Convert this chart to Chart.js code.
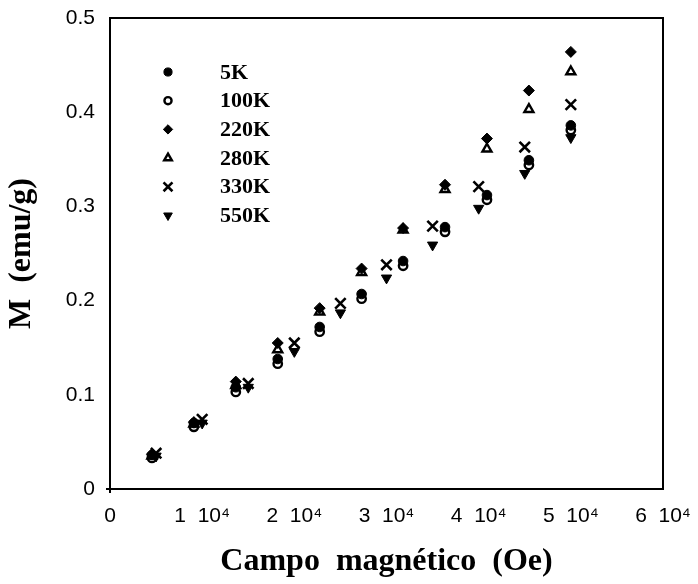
<!DOCTYPE html>
<html><head><meta charset="utf-8">
<script src="https://cdn.jsdelivr.net/npm/chart.js@4/dist/chart.umd.min.js"></script>
<style>html,body{margin:0;padding:0;background:#fff}canvas{display:block}</style>
</head><body>
<canvas id="c" width="698" height="584"></canvas>
<script>
// Field values (Oe)
const fieldsA = [4550, 9100, 13650, 18200, 22750, 27300, 31800, 36350, 40900, 45450, 50000];
const fieldsB = [5000, 10000, 15000, 20000, 25000, 30000, 35000, 40000, 45000, 50000];
// Magnetization (emu/g)
const m5K   = [0.036, 0.070, 0.108, 0.138, 0.172, 0.207, 0.242, 0.278, 0.312, 0.349, 0.386];
const m100K = [0.033, 0.066, 0.103, 0.133, 0.167, 0.202, 0.237, 0.273, 0.307, 0.344, 0.381];
const m220K = [0.037, 0.071, 0.114, 0.155, 0.192, 0.234, 0.277, 0.323, 0.372, 0.423, 0.464];
const m280K = [0.035, 0.069, 0.110, 0.148, 0.188, 0.230, 0.275, 0.318, 0.361, 0.403, 0.443];
const m330K = [0.038, 0.074, 0.112, 0.155, 0.197, 0.238, 0.279, 0.321, 0.363, 0.408];
const m550K = [0.035, 0.070, 0.108, 0.146, 0.187, 0.224, 0.259, 0.298, 0.335, 0.373];
const originField = [0];
const originM = [0];
const seriesLabels = ['5K', '100K', '220K', '280K', '330K', '550K'];
const xTickLabels = ['0', '1  10\u2074', '2  10\u2074', '3  10\u2074', '4  10\u2074', '5  10\u2074', '6  10\u2074'];
const yTickLabels = ['0', '0.1', '0.2', '0.3', '0.4', '0.5'];
const xTitle = 'Campo  magnético  (Oe)';
const yTitle = 'M  (emu/g)';

const pts = (xs, ys) => xs.map((x, i) => ({x: x, y: ys[i]}));

const datasets = [
  {label: seriesLabels[0], data: pts(fieldsA, m5K), pointStyle: 'circle', pointRadius: 4.8, pointBorderWidth: 1, pointBackgroundColor: '#000', pointBorderColor: '#000'},
  {label: seriesLabels[1], data: pts(fieldsA, m100K), pointStyle: 'circle', pointRadius: 4.2, pointBorderWidth: 2.4, pointBackgroundColor: 'rgba(0,0,0,0)', pointBorderColor: '#000'},
  {label: seriesLabels[2], data: pts(fieldsA, m220K), pointStyle: 'rectRot', pointRadius: 5.5, pointBorderWidth: 1, pointBackgroundColor: '#000', pointBorderColor: '#000'},
  {label: seriesLabels[3], data: pts(fieldsA, m280K), pointStyle: 'triangle', pointRadius: 5.2, pointBorderWidth: 2.4, pointBackgroundColor: 'rgba(0,0,0,0)', pointBorderColor: '#000'},
  {label: seriesLabels[4], data: pts(fieldsB, m330K), pointStyle: 'crossRot', pointRadius: 7.4, pointBorderWidth: 2.6, pointBackgroundColor: '#000', pointBorderColor: '#000'},
  {label: seriesLabels[5], data: pts(fieldsB, m550K), pointStyle: 'triangle', pointRotation: 180, pointRadius: 5.9, pointBorderWidth: 1, pointBackgroundColor: '#000', pointBorderColor: '#000'},
  {label: '', data: pts(originField, originM), pointStyle: 'cross', pointRadius: 4, pointBorderWidth: 2, pointBackgroundColor: '#000', pointBorderColor: '#000', clip: false, isOrigin: true}
];

const framePlugin = {
  id: 'frame',
  afterDatasetsDraw(chart) {
    const {ctx, chartArea: a} = chart;
    ctx.save();
    ctx.strokeStyle = '#000';
    ctx.lineWidth = 2;
    ctx.strokeRect(a.left, a.top, a.right - a.left, a.bottom - a.top);
    ctx.restore();
  }
};

const innerLegend = {
  id: 'innerLegend',
  afterDraw(chart) {
    const {ctx, chartArea: a} = chart;
    const mx = a.left + 58, tx = a.left + 110, y0 = a.top + 54, dy = 28.7;
    ctx.save();
    chart.data.datasets.forEach((ds, i) => {
      if (ds.isOrigin) return;
      const y = y0 + i * dy;
      ctx.fillStyle = ds.pointBackgroundColor;
      ctx.strokeStyle = ds.pointBorderColor;
      ctx.lineWidth = ds.pointBorderWidth;
      Chart.helpers.drawPoint(ctx, {
        pointStyle: ds.pointStyle,
        rotation: ds.pointRotation || 0,
        radius: ds.pointRadius * 0.85,
        borderWidth: ds.pointBorderWidth
      }, mx, y);
      ctx.fillStyle = '#000';
      ctx.font = 'bold 22px "Liberation Serif", "Times New Roman", serif';
      ctx.textBaseline = 'middle';
      ctx.textAlign = 'left';
      ctx.fillText(ds.label, tx, y + 1);
    });
    ctx.restore();
  }
};

new Chart(document.getElementById('c'), {
  type: 'scatter',
  data: {datasets: datasets},
  options: {
    responsive: false,
    animation: false,
    layout: {padding: {top: 18, right: 35, bottom: 0, left: 0}},
    plugins: {legend: {display: false}, tooltip: {enabled: false}},
    scales: {
      x: {
        type: 'linear', min: 0, max: 60000,
        grid: {display: false, drawTicks: false},
        border: {display: false},
        ticks: {
          stepSize: 10000, padding: 15, color: '#000', maxRotation: 0, autoSkip: false,
          font: {family: '"Liberation Sans", Arial, sans-serif', size: 21},
          callback: (v) => xTickLabels[Math.round(v / 10000)]
        },
        title: {
          display: true, text: xTitle, color: '#000', padding: {top: 0, bottom: 3},
          font: {family: '"Liberation Serif", "Times New Roman", serif', size: 32, weight: 'bold'}
        },
        afterFit(s) { s.height = 95; s.paddingLeft = 0; s.paddingRight = 0; }
      },
      y: {
        type: 'linear', min: 0, max: 0.5,
        grid: {display: false, drawTicks: false},
        border: {display: false},
        ticks: {
          stepSize: 0.1, padding: 15, color: '#000',
          font: {family: '"Liberation Sans", Arial, sans-serif', size: 21},
          callback: (v) => yTickLabels[Math.round(v * 10)]
        },
        title: {
          display: true, text: yTitle, color: '#000', padding: {top: 3, bottom: 0},
          font: {family: '"Liberation Serif", "Times New Roman", serif', size: 32, weight: 'bold'}
        },
        afterFit(s) { s.width = 110; s.paddingTop = 0; s.paddingBottom = 0; }
      }
    }
  },
  plugins: [framePlugin, innerLegend]
});
</script>
</body></html>
